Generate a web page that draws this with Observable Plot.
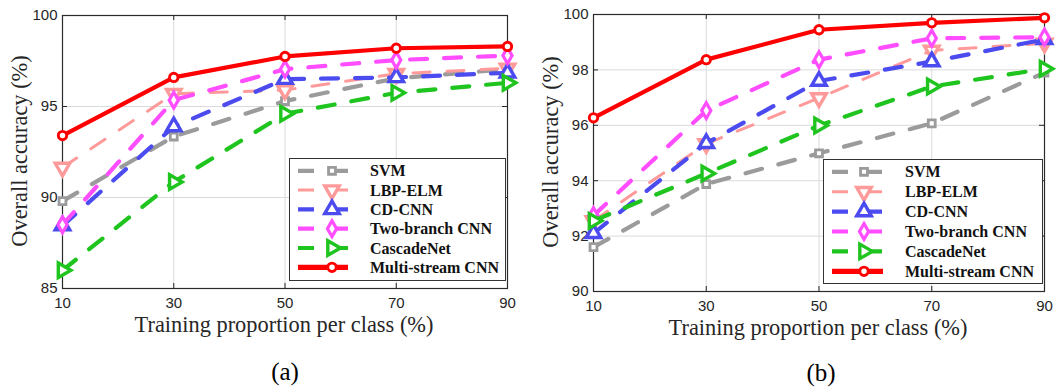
<!DOCTYPE html>
<html><head><meta charset="utf-8">
<script src="https://cdn.jsdelivr.net/npm/d3@7"></script>
<script src="https://cdn.jsdelivr.net/npm/@observablehq/plot@0.6"></script>
<style>
body{margin:0;background:#fff;}
#wrap{position:relative;width:1059px;height:388px;overflow:hidden;background:#fff;}
.panel{position:absolute;top:0;}
.ylab,.xlab,.cap{position:absolute;font-family:"Liberation Serif","Times New Roman",serif;color:#262626;white-space:nowrap;transform:translate(-50%,-50%);}
.ylab{font-size:22.4px;transform:translate(-50%,-50%) rotate(-90deg);}
.xlab{font-size:22.4px;}
.cap{font-size:25px;color:#000;}
.legend{position:absolute;background:#fff;border:1.5px solid #333;box-sizing:border-box;}
.legend svg{display:block;}
</style>
</head><body>
<div id="wrap"></div>
<script>
// ---------- data ----------
const xs = [10, 30, 50, 70, 90];
const series = ["SVM", "LBP-ELM", "CD-CNN", "Two-branch CNN", "CascadeNet", "Multi-stream CNN"];
const colors = ["#9b9b9b", "#ff9a9a", "#4b4bef", "#ff4dff", "#1fc41f", "#ff0000"];

const valuesA = [
  [89.8, 93.35, 95.3, 96.55, 97.05],   // SVM
  [91.65, 95.7, 95.9, 96.8, 97.1],     // LBP-ELM
  [88.45, 93.9, 96.5, 96.6, 96.85],    // CD-CNN
  [88.5, 95.35, 97.05, 97.55, 97.8],   // Two-branch CNN
  [86.0, 90.85, 94.6, 95.75, 96.3],    // CascadeNet
  [93.4, 96.6, 97.75, 98.2, 98.3]      // Multi-stream CNN
];
const valuesB = [
  [91.6, 93.88, 94.99, 96.07, 97.9],
  [92.55, 95.33, 96.99, 98.7, 98.96],
  [92.1, 95.35, 97.6, 98.3, 99.1],
  [92.74, 96.53, 98.37, 99.14, 99.18],
  [92.55, 94.26, 95.99, 97.4, 98.04],
  [96.27, 98.37, 99.45, 99.7, 99.88]
];
const yTicksA = [85, 90, 95, 100];
const yTicksB = [90, 92, 94, 96, 98, 100];
const xLabel = "Training proportion per class (%)";
const yLabel = "Overall accuracy (%)";
const captions = ["(a)", "(b)"];

// ---------- styles ----------
const sqrt3 = Math.sqrt(3);
const triDown = {draw(ctx, size){const y=-Math.sqrt(size/(sqrt3*3));ctx.moveTo(0,-y*2);ctx.lineTo(-sqrt3*y,y);ctx.lineTo(sqrt3*y,y);ctx.closePath();}};
const triUp = {draw(ctx, size){const y=-Math.sqrt(size/(sqrt3*3));ctx.moveTo(0,y*2);ctx.lineTo(-sqrt3*y,-y);ctx.lineTo(sqrt3*y,-y);ctx.closePath();}};
const triRight = {draw(ctx, size){const y=-Math.sqrt(size/(sqrt3*3));ctx.moveTo(-y*2,0);ctx.lineTo(y,-sqrt3*y);ctx.lineTo(y,sqrt3*y);ctx.closePath();}};
const symbols = [d3.symbolSquare, triDown, triUp, d3.symbolDiamond, triRight, d3.symbolCircle];
const radii = [3.9, 5.4, 5.4, 4.8, 5.4, 4.2];
const mstroke = [2.8, 3.4, 3.4, 3.2, 3.4, 2.9];
const widths = [4.2, 3, 4.2, 4.2, 4.2, 4.2];
const dashes = ["17,17", "17,17", "17,17", "17,17", "17,17", null];

function makePlot(values, yDomain, yTicks, w, m) {
  const data = [];
  series.forEach((s, i) => xs.forEach((x, j) => data.push({s, i, x, y: values[i][j]})));
  const pw = w - m[0] - m[1], ph = 340 - m[2] - m[3], t = 5;
  const marks = [
    Plot.gridX(xs, {stroke: "#dadada", strokeOpacity: 1, strokeWidth: 1}),
    Plot.gridY(yTicks, {stroke: "#dadada", strokeOpacity: 1, strokeWidth: 1}),
    Plot.tickY(yTicks, {y: d => d, stroke: "#262626", insetRight: pw - t}),
    Plot.tickY(yTicks, {y: d => d, stroke: "#262626", insetLeft: pw - t}),
    Plot.tickX(xs, {x: d => d, stroke: "#262626", insetTop: ph - t}),
    Plot.tickX(xs, {x: d => d, stroke: "#262626", insetBottom: ph - t}),
    Plot.axisX(xs, {tickSize: 0, tickPadding: 9, label: null, tickFormat: d => d}),
    Plot.axisY(yTicks, {tickSize: 0, tickPadding: 5, label: null, tickFormat: d => d}),
    Plot.frame({stroke: "#2a2a2a", strokeWidth: 1.2})
  ];
  series.forEach((s, i) => {
    const d = data.filter(e => e.i === i);
    marks.push(Plot.line(d, {x: "x", y: "y", stroke: colors[i], strokeWidth: widths[i],
      strokeDasharray: dashes[i] || undefined, strokeLinejoin: "round"}));
    marks.push(Plot.dot(d, {x: "x", y: "y", symbol: () => symbols[i], r: radii[i],
      stroke: colors[i], strokeWidth: mstroke[i], fill: "white"}));
  });
  return Plot.plot({
    width: w, height: 340,
    marginLeft: m[0], marginRight: m[1], marginTop: m[2], marginBottom: m[3],
    x: {domain: [10, 90]},
    y: {domain: yDomain},
    style: {fontFamily: "'Liberation Sans', Arial, sans-serif", fontSize: "15px", color: "#262626", background: "transparent", overflow: "visible"},
    marks
  });
}

function makeLegend(left, top, w, h, first, step, lineX, markX, textX) {
  const div = document.createElement("div");
  div.className = "legend";
  Object.assign(div.style, {left: left + "px", top: top + "px", width: w + "px", height: h + "px"});
  const svg = d3.create("svg").attr("width", w - 3).attr("height", h - 3);
  series.forEach((s, i) => {
    const y = first + step * i - 1.5;
    const g = svg.append("g");
    g.append("line").attr("x1", lineX[0]).attr("x2", lineX[1]).attr("y1", y).attr("y2", y)
      .attr("stroke", colors[i]).attr("stroke-width", widths[i] + (i === 5 ? 1 : 0))
      .attr("stroke-dasharray", dashes[i] ? "16,18" : null);
    g.append("path").attr("d", d3.symbol(symbols[i], Math.PI * radii[i] * radii[i])())
      .attr("transform", `translate(${markX},${y})`)
      .attr("fill", "white").attr("stroke", colors[i]).attr("stroke-width", mstroke[i]);
    g.append("text").attr("x", textX).attr("y", y).attr("dy", "0.35em")
      .attr("font-family", "'Liberation Serif','Times New Roman',serif")
      .attr("font-weight", "bold").attr("font-size", 16).attr("fill", "#111").text(s);
  });
  div.appendChild(svg.node());
  return div;
}

function addText(cls, text, x, y) {
  const d = document.createElement("div");
  d.className = cls; d.textContent = text;
  d.style.left = x + "px"; d.style.top = y + "px";
  wrap.appendChild(d);
}

const wrap = document.getElementById("wrap");

const pA = document.createElement("div"); pA.className = "panel"; pA.style.left = "0px";
pA.appendChild(makePlot(valuesA, [85, 100], yTicksA, 530, [62, 23, 15, 52]));
wrap.appendChild(pA);

const pB = document.createElement("div"); pB.className = "panel"; pB.style.left = "530px";
pB.appendChild(makePlot(valuesB, [90, 100], yTicksB, 529, [63, 15, 14, 49]));
wrap.appendChild(pB);

wrap.appendChild(makeLegend(289, 158, 217, 123, 13.3, 19.3, [8, 58], 42, 80));
wrap.appendChild(makeLegend(823, 159, 220, 125, 13.3, 19.9, [8, 59], 40, 81));

addText("ylab", yLabel, 20, 151);
addText("ylab", yLabel, 551, 152);
addText("xlab", xLabel, 284, 325);
addText("xlab", xLabel, 818, 328);
addText("cap", captions[0], 285, 372);
addText("cap", captions[1], 821, 373);
</script>
</body></html>
